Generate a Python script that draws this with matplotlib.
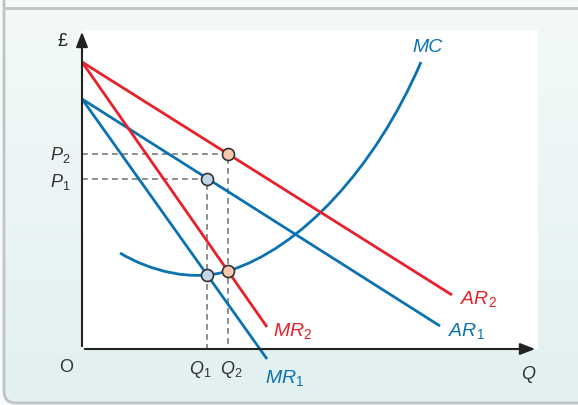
import matplotlib.pyplot as plt
from matplotlib.patches import FancyBboxPatch, Rectangle, PathPatch
from matplotlib.path import Path
from matplotlib.colors import LinearSegmentedColormap
import numpy as np

plt.rcParams['font.family'] = ['Liberation Sans', 'DejaVu Sans']
plt.rcParams['mathtext.fontset'] = 'custom'
plt.rcParams['mathtext.rm'] = 'Liberation Sans'
plt.rcParams['mathtext.it'] = 'Liberation Sans:italic'

# Curves (quantity / price units)
ar1_q = [0, 358]
ar1_p = [250, 23]
mr1_q = [0, 185]
mr1_p = [250, -10]
ar2_q = [0, 370]
ar2_p = [287, 54]
mr2_q = [0, 185]
mr2_p = [287, 22]
# MC drawn as two cubic Bezier pieces (anchor, ctrl, ctrl, anchor, ctrl, ctrl, anchor)
mc_q = [38, 68, 110, 146, 218, 293, 339]
mc_p = [96, 78, 67, 78, 100, 180, 287]

# Equilibria
q_eq = [125, 146]
p_eq = [170, 195]
mc_eq = [74, 78]

blue = '#0a72b0'
red = '#e8202a'

fig = plt.figure(figsize=(5.78, 4.06), dpi=100)
fig.patch.set_facecolor('#f5fafa')
ax = fig.add_axes([0, 0, 1, 1])
ax.set_xlim(-82, 496)
ax.set_ylim(-56, 350)
ax.axis('off')

# background panel (gradient) and white plot area
panel = FancyBboxPatch((-78, -54), 700, 420, boxstyle='round,pad=0,rounding_size=12',
                       facecolor='none', edgecolor='#c0c4c4', lw=2, zorder=0.3)
ax.add_patch(panel)
grad = np.linspace(0, 1, 50).reshape(-1, 1)
bg_cmap = LinearSegmentedColormap.from_list('bg', ['#f3f9f9', '#e2f0f0'])
im = ax.imshow(grad, extent=(-80, 500, -56, 341), aspect='auto', origin='upper',
               cmap=bg_cmap, zorder=0.1)
im.set_clip_path(panel)
ax.plot([-78, 500], [341, 341], color='#c0c4c4', lw=2, zorder=0.3)
ax.add_patch(Rectangle((0, 0), 456, 319, facecolor='white', edgecolor='none', zorder=0.5))

# dashed guides
for q, p in zip(q_eq, p_eq):
    ax.plot([0, q, q], [p, p, 0], ls=(0, (3.5, 2.5)), color='#7a7a7a', lw=1.2, zorder=1)

mc_path = Path(np.column_stack([mc_q, mc_p]),
               [Path.MOVETO, Path.CURVE4, Path.CURVE4, Path.CURVE4,
                Path.CURVE4, Path.CURVE4, Path.CURVE4])
ax.add_patch(PathPatch(mc_path, facecolor='none', edgecolor=blue, lw=2.0, zorder=2))
ax.plot(ar1_q, ar1_p, color=blue, lw=2.0, solid_capstyle='butt', zorder=2)
ax.plot(mr1_q, mr1_p, color=blue, lw=2.0, solid_capstyle='butt', zorder=2)
ax.plot(ar2_q, ar2_p, color=red, lw=2.0, solid_capstyle='butt', zorder=2)
ax.plot(mr2_q, mr2_p, color=red, lw=2.0, solid_capstyle='butt', zorder=2)

# axes
ax.annotate('', xy=(0, 320), xytext=(0, 0),
            arrowprops=dict(arrowstyle='-|>,head_length=0.9,head_width=0.35', color='#222222', lw=1.5))
ax.annotate('', xy=(456, 0), xytext=(0, 0),
            arrowprops=dict(arrowstyle='-|>,head_length=0.9,head_width=0.35', color='#222222', lw=1.5))

# equilibrium points
faces = ['#c5d5e8', '#f9c9ad']
for q, p, m, fc in zip(q_eq, p_eq, mc_eq, faces):
    ax.scatter([q, q], [p, m], s=75, facecolor=fc, edgecolor='#333333', lw=1.2, zorder=4)

fs = 13
ax.text(-20, 309, '£', fontsize=fs, ha='center', va='center', color='#222222')
ax.text(346, 303, 'MC', fontsize=14, style='italic', ha='center', va='center', color=blue)
ax.text(-12, p_eq[1], '$P_2$', fontsize=fs, ha='right', va='center', color='#333333')
ax.text(-12, p_eq[0] - 2, '$P_1$', fontsize=fs, ha='right', va='center', color='#333333')
ax.text(-16, -18, 'O', fontsize=fs, ha='center', va='center', color='#333333')
ax.text(q_eq[0] + 4, -20, '$Q_1$', fontsize=fs, ha='right', va='center', color='#333333')
ax.text(q_eq[1] - 8, -20, '$Q_2$', fontsize=fs, ha='left', va='center', color='#333333')
ax.text(447, -25, '$Q$', fontsize=fs, ha='center', va='center', color='#333333')
ax.text(183, -28, '$MR_1$', fontsize=fs + 1, ha='left', va='center', color=blue)
ax.text(191, 19, '$MR_2$', fontsize=fs + 1, ha='left', va='center', color=red)
ax.text(366, 19, '$AR_1$', fontsize=fs + 1, ha='left', va='center', color=blue)
ax.text(378, 51, '$AR_2$', fontsize=fs + 1, ha='left', va='center', color=red)

fig.savefig('out.png', dpi=100)
